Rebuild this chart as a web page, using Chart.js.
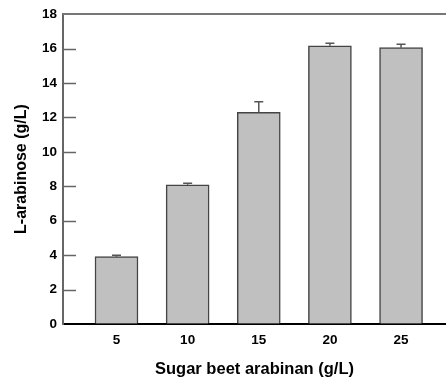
<!DOCTYPE html>
<html lang="en">
<head>
    <meta charset="UTF-8">
    <title>L-arabinose vs sugar beet arabinan</title>
    <script src="https://cdn.jsdelivr.net/npm/chart.js"></script>
    <style>
        body { margin: 0; background: white; }
        #wrap { width: 446px; height: 383px; }
    </style>
</head>
<body>
    <div id="wrap"><canvas id="chart"></canvas></div>

    <script>
        const categories = [5, 10, 15, 20, 25];
        const arabinose = [3.91, 8.09, 12.29, 16.16, 16.05];
        const errors = [0.08, 0.08, 0.62, 0.15, 0.2];
        const yTicks = [0, 2, 4, 6, 8, 10, 12, 14, 16, 18];

        const font = { family: 'Liberation Sans, Arial, sans-serif', weight: 'bold' };

        // upward error bars + inward y ticks + top frame line
        const extras = {
            id: 'extras',
            afterDatasetsDraw(chart) {
                const ctx = chart.ctx;
                const y = chart.scales.y;
                const area = chart.chartArea;
                const meta = chart.getDatasetMeta(0);
                ctx.save();
                ctx.strokeStyle = '#555';
                ctx.lineWidth = 1.5;
                meta.data.forEach((bar, i) => {
                    const top = y.getPixelForValue(arabinose[i] + errors[i]);
                    ctx.beginPath();
                    ctx.moveTo(bar.x, bar.y);
                    ctx.lineTo(bar.x, top);
                    ctx.moveTo(bar.x - 4.5, top);
                    ctx.lineTo(bar.x + 4.5, top);
                    ctx.stroke();
                });
                ctx.strokeStyle = '#666';
                ctx.lineWidth = 1.5;
                yTicks.forEach(v => {
                    if (v === 0 || v === 18) return;
                    const py = Math.round(y.getPixelForValue(v)) + 0.5;
                    ctx.beginPath();
                    ctx.moveTo(area.left, py);
                    ctx.lineTo(area.left + 13, py);
                    ctx.stroke();
                });
                ctx.strokeStyle = '#777';
                ctx.lineWidth = 2;
                ctx.beginPath();
                ctx.moveTo(area.left, area.top);
                ctx.lineTo(area.right, area.top);
                ctx.stroke();
                ctx.restore();
            }
        };

        new Chart(document.getElementById('chart'), {
            type: 'bar',
            data: {
                datasets: [{
                    data: categories.map((c, i) => ({ x: c, y: arabinose[i] })),
                    backgroundColor: '#c0c0c0',
                    borderColor: '#444',
                    borderWidth: 1.5,
                    barThickness: 43
                }]
            },
            options: {
                responsive: true,
                maintainAspectRatio: false,
                animation: false,
                layout: { padding: { top: 13, right: 0, left: 0, bottom: 0 } },
                plugins: { legend: { display: false }, tooltip: { enabled: false } },
                scales: {
                    x: {
                        type: 'linear',
                        offset: false,
                        min: 1.24,
                        max: 28.16,
                        afterBuildTicks: s => { s.ticks = categories.map(v => ({ value: v })); },
                        afterFit: s => { s.height = 59; },
                        grid: { drawOnChartArea: false, drawTicks: false },
                        border: { color: '#000', width: 2 },
                        ticks: { color: '#000', font: { ...font, size: 13.5 }, padding: 8 },
                        title: {
                            display: true,
                            text: 'Sugar beet arabinan (g/L)',
                            color: '#000',
                            font: { ...font, size: 16.5 },
                            padding: { top: 10 }
                        }
                    },
                    y: {
                        min: 0,
                        max: 18,
                        afterBuildTicks: s => { s.ticks = yTicks.map(v => ({ value: v })); },
                        afterFit: s => { s.width = 63; },
                        grid: { drawOnChartArea: false, drawTicks: false },
                        border: { color: '#666', width: 2 },
                        ticks: { color: '#000', font: { ...font, size: 13.5 }, padding: 6 },
                        title: {
                            display: true,
                            text: 'L-arabinose (g/L)',
                            color: '#000',
                            font: { ...font, size: 16 },
                            padding: { top: 12, bottom: 0 }
                        }
                    }
                }
            },
            plugins: [extras]
        });
    </script>
</body>
</html>
